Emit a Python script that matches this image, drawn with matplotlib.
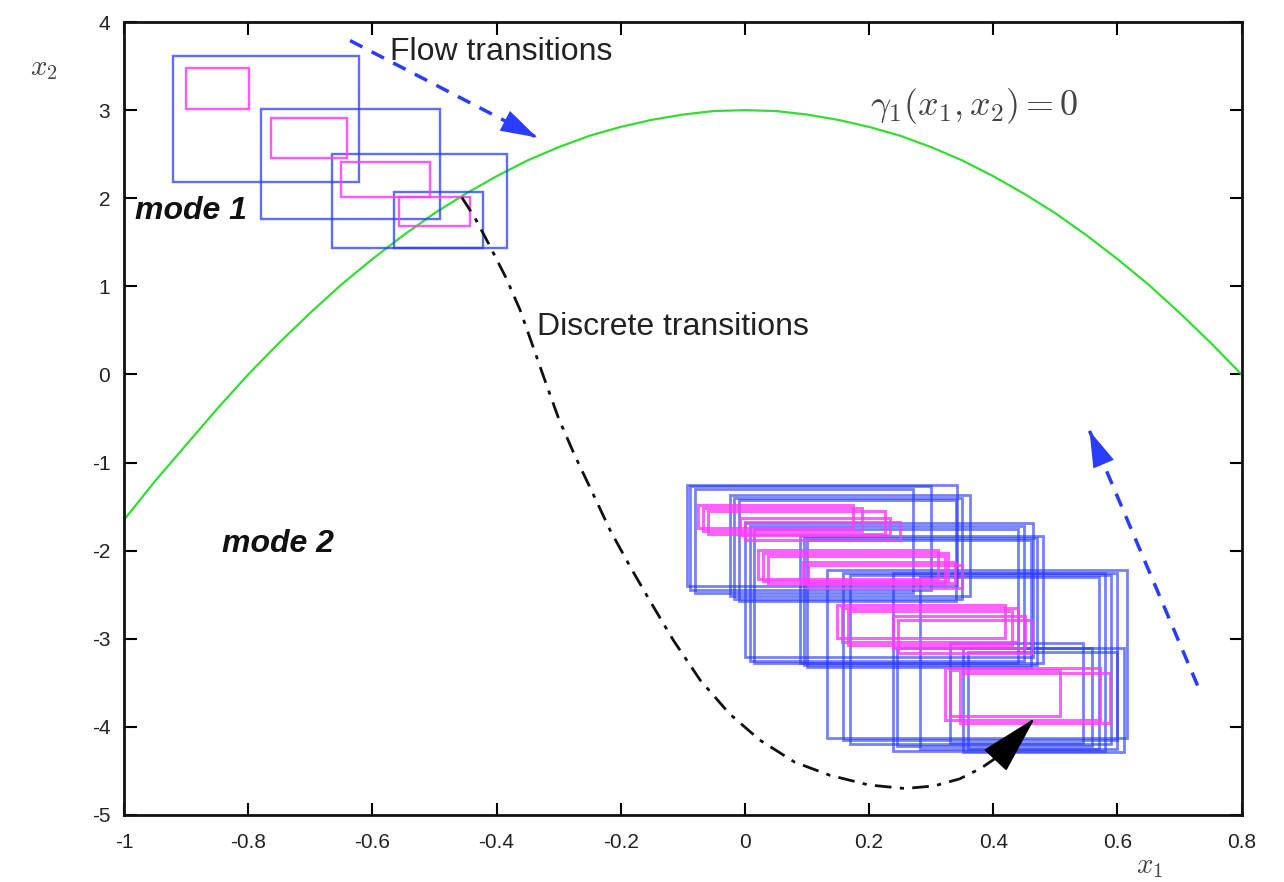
import matplotlib
matplotlib.use("Agg")
import matplotlib.pyplot as plt
from matplotlib.patches import Rectangle
from matplotlib import font_manager

plt.rcParams['font.family'] = ['Liberation Sans', 'DejaVu Sans']
plt.rcParams['mathtext.fontset'] = 'cm'

# ---- data ----
gamma_x1 = [-1.0, -0.95, -0.9, -0.85, -0.8, -0.75, -0.7, -0.65, -0.6, -0.55, -0.5, -0.45, -0.4,
            -0.35, -0.3, -0.25, -0.2, -0.15, -0.1, -0.05, 0.0, 0.05, 0.1, 0.15, 0.2, 0.25, 0.3,
            0.35, 0.4, 0.45, 0.5, 0.55, 0.6, 0.65, 0.7, 0.75, 0.8]
gamma_x2 = [-1.65, -1.21, -0.80, -0.39, 0.00, 0.36, 0.70, 1.02, 1.31, 1.58, 1.83, 2.05, 2.25,
            2.43, 2.58, 2.71, 2.81, 2.89, 2.95, 2.99, 3.00, 2.99, 2.95, 2.89, 2.81, 2.71, 2.58,
            2.43, 2.25, 2.05, 1.83, 1.58, 1.31, 1.02, 0.70, 0.36, 0.00]

# boxes: (x1_lo, x1_hi, x2_lo, x2_hi)
mode1_blue = [(-0.921, -0.622, 2.18, 3.61),
              (-0.779, -0.491, 1.77, 3.01),
              (-0.665, -0.383, 1.43, 2.50),
              (-0.565, -0.422, 1.43, 2.07)]
mode1_magenta = [(-0.900, -0.799, 3.01, 3.48),
                 (-0.763, -0.641, 2.46, 2.91),
                 (-0.651, -0.507, 2.01, 2.41),
                 (-0.557, -0.443, 1.69, 2.01)]

mode2_blue = [(-0.093, 0.341, -2.40, -1.25), (-0.088, 0.300, -2.45, -1.27), (-0.080, 0.270, -2.48, -1.30),
              (-0.024, 0.362, -2.51, -1.37), (-0.018, 0.350, -2.55, -1.40), (-0.010, 0.340, -2.57, -1.42),
              (0.000, 0.464, -3.21, -1.69), (0.008, 0.450, -3.25, -1.72), (0.015, 0.440, -3.27, -1.75),
              (0.089, 0.480, -3.27, -1.83), (0.095, 0.470, -3.30, -1.86), (0.100, 0.460, -3.32, -1.88),
              (0.132, 0.615, -4.13, -2.22), (0.158, 0.600, -4.15, -2.25), (0.170, 0.590, -4.20, -2.28),
              (0.238, 0.580, -4.27, -2.25), (0.282, 0.570, -4.25, -2.30), (0.245, 0.559, -4.22, -3.10),
              (0.351, 0.610, -4.29, -3.10), (0.360, 0.600, -4.25, -3.15), (0.330, 0.545, -4.18, -3.05)]
mode2_magenta = [(-0.076, 0.174, -1.748, -1.487), (-0.068, 0.188, -1.782, -1.521), (-0.060, 0.225, -1.816, -1.555),
                 (-0.008, 0.233, -1.827, -1.634), (0.000, 0.250, -1.884, -1.669),
                 (0.021, 0.311, -2.316, -1.998), (0.029, 0.327, -2.350, -2.032), (0.037, 0.322, -2.384, -2.066),
                 (0.093, 0.338, -2.372, -2.134), (0.101, 0.349, -2.429, -2.168),
                 (0.148, 0.419, -2.997, -2.622), (0.156, 0.440, -3.042, -2.656), (0.166, 0.430, -3.076, -2.690),
                 (0.238, 0.451, -3.110, -2.747), (0.246, 0.462, -3.156, -2.792),
                 (0.322, 0.572, -3.927, -3.337), (0.346, 0.588, -3.961, -3.383), (0.330, 0.507, -3.871, -3.360)]

discrete_x1 = [-0.456, -0.435, -0.411, -0.385, -0.362, -0.342, -0.322, -0.300, -0.274, -0.245, -0.217,
               -0.185, -0.153, -0.115, -0.072, -0.025, 0.024, 0.080, 0.137, 0.200, 0.258, 0.305, 0.346, 0.380, 0.411]
discrete_x2 = [2.01, 1.78, 1.46, 1.10, 0.73, 0.33, -0.07, -0.50, -0.92, -1.35, -1.77,
               -2.18, -2.57, -3.02, -3.47, -3.85, -4.15, -4.40, -4.55, -4.66, -4.70, -4.67, -4.59, -4.47, -4.32]
discrete_tip = (0.467, -3.90)

flow_arrow_top = [(-0.636, 3.79), (-0.335, 2.69)]
flow_arrow_right = [(0.729, -3.53), (0.555, -0.64)]

xticks = [-1, -0.8, -0.6, -0.4, -0.2, 0, 0.2, 0.4, 0.6, 0.8]
xtick_labels = ['-1', '-0.8', '-0.6', '-0.4', '-0.2', '0', '0.2', '0.4', '0.6', '0.8']
yticks = [-5, -4, -3, -2, -1, 0, 1, 2, 3, 4]
ytick_labels = ['-5', '-4', '-3', '-2', '-1', '0', '1', '2', '3', '4']

# ---- figure ----
fig = plt.figure(figsize=(12.84, 8.82), dpi=100)
ax = fig.add_axes([0.0966, 0.076, 0.8704, 0.899])
ax.set_xlim(-1, 0.8)
ax.set_ylim(-5, 4)

BLUE = '#2a3cff'
MAG = '#ff3cff'

ax.plot(gamma_x1, gamma_x2, color='#33dd33', lw=1.6, zorder=2)

for (x0, x1, y0, y1) in mode1_blue:
    ax.add_patch(Rectangle((x0, y0), x1 - x0, y1 - y0, fill=False, ec=BLUE, lw=1.7, alpha=0.75, zorder=3))
for (x0, x1, y0, y1) in mode1_magenta:
    ax.add_patch(Rectangle((x0, y0), x1 - x0, y1 - y0, fill=False, ec=MAG, lw=1.7, alpha=0.85, zorder=4))
for (x0, x1, y0, y1) in mode2_blue:
    ax.add_patch(Rectangle((x0, y0), x1 - x0, y1 - y0, fill=False, ec=BLUE, lw=2.0, alpha=0.65, zorder=3))
for (x0, x1, y0, y1) in mode2_magenta:
    ax.add_patch(Rectangle((x0, y0), x1 - x0, y1 - y0, fill=False, ec=MAG, lw=2.2, alpha=0.8, zorder=4))

# discrete transition path
ax.plot(discrete_x1, discrete_x2, color='#111111', lw=2.0, linestyle=(0, (6, 3, 1.5, 3)), zorder=5)
ax.annotate('', xy=discrete_tip, xytext=(discrete_x1[-1], discrete_x2[-1]),
            arrowprops=dict(arrowstyle='-|>,head_length=1.9,head_width=0.5', color='black',
                            lw=1.5, shrinkA=0, shrinkB=0, mutation_scale=20), zorder=6)

# flow arrows
for (p0, p1) in (flow_arrow_top, flow_arrow_right):
    ax.plot([p0[0], p1[0]], [p0[1], p1[1]], color=BLUE, lw=2.5, linestyle=(0, (4, 3)), zorder=5)
    fx = p0[0] + 0.9 * (p1[0] - p0[0])
    fy = p0[1] + 0.9 * (p1[1] - p0[1])
    ax.annotate('', xy=p1, xytext=(fx, fy),
                arrowprops=dict(arrowstyle='-|>,head_length=1.3,head_width=0.4', color=BLUE,
                                lw=0, shrinkA=0, shrinkB=0, mutation_scale=20), zorder=6)

# texts
ax.text(-0.572, 3.66, 'Flow transitions', fontsize=23, color='#222222', va='center', ha='left')
ax.text(-0.335, 0.54, 'Discrete transitions', fontsize=23, color='#222222', va='center', ha='left')
ax.text(-0.982, 1.86, 'mode 1', fontsize=23, fontweight='bold', fontstyle='italic', color='#111111',
        va='center', ha='left')
ax.text(-0.842, -1.92, 'mode 2', fontsize=23, fontweight='bold', fontstyle='italic', color='#111111',
        va='center', ha='left')
ax.text(0.201, 3.05, r'$\gamma_1(x_1, x_2) = 0$', fontsize=26, color='#444444', va='center', ha='left')

fig.text(44 / 1284, 1 - 68 / 882, r'$x_2$', fontsize=21, color='#444444', ha='center', va='center')
fig.text(1150 / 1284, 1 - 866 / 882, r'$x_1$', fontsize=21, color='#444444', ha='center', va='center')

# narrow tick font if available
installed = {f.name for f in font_manager.fontManager.ttflist}
tick_family = ['Liberation Sans Narrow', 'Liberation Sans'] if 'Liberation Sans Narrow' in installed \
    else ['Liberation Sans']

ax.set_xticks(xticks)
ax.set_xticklabels(xtick_labels, family=tick_family)
ax.set_yticks(yticks)
ax.set_yticklabels(ytick_labels, family=tick_family)
ax.tick_params(direction='in', length=9, width=1.5, top=True, right=True, labelsize=15,
               labelcolor='#222222')
ax.tick_params(axis='x', pad=13)
ax.tick_params(axis='y', pad=10)
for s in ax.spines.values():
    s.set_linewidth(2.0)
    s.set_color('#111111')

fig.savefig('out.png', dpi=100)
